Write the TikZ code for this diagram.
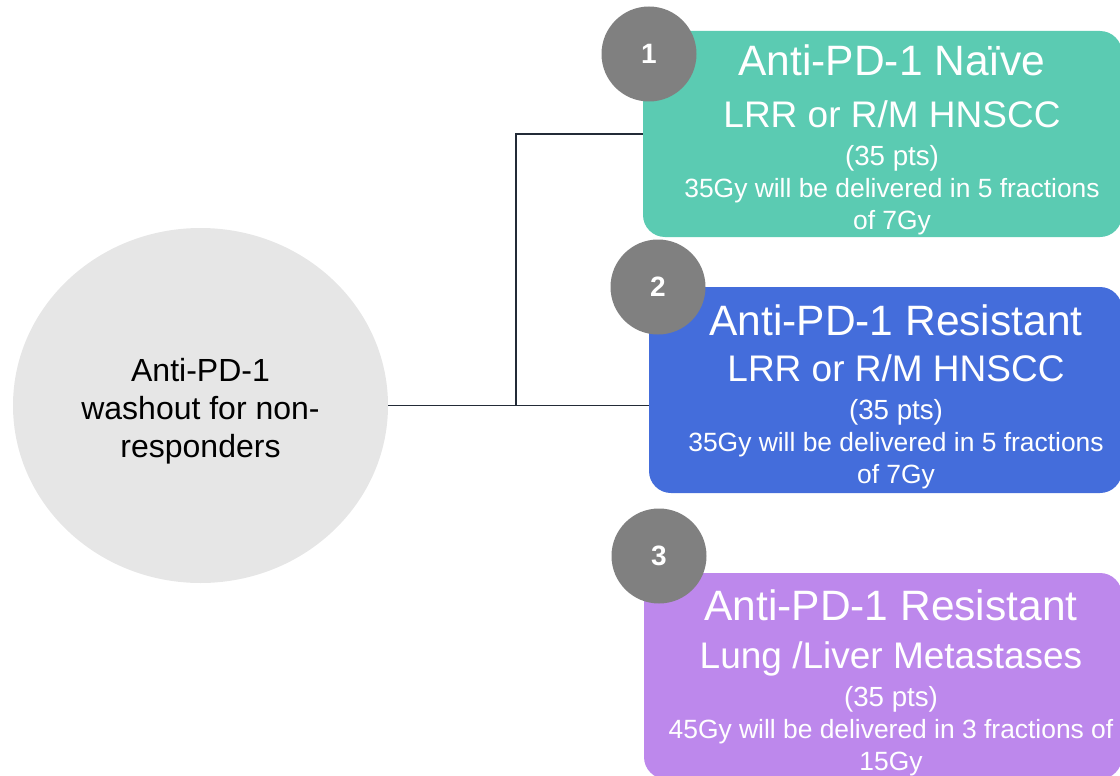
\documentclass[tikz,border=0pt]{standalone}
\usepackage{fontspec}
\setmainfont{Liberation Sans}
\usetikzlibrary{positioning,calc,shapes}
\definecolor{hubgray}{HTML}{E6E6E6}
\definecolor{numgray}{HTML}{808080}
\definecolor{naive}{HTML}{5BCBB2}
\definecolor{resist}{HTML}{446DDB}
\definecolor{meta}{HTML}{BD88EC}
\definecolor{linecol}{HTML}{232B37}
\tikzset{
hub/.style={
  ellipse,
  fill=hubgray,
  minimum width=375pt,
  minimum height=355pt
},
hubtext/.style={align=center, inner sep=0pt, font=\fontsize{32}{38}\selectfont},
arm/.style={rectangle, rounded corners=22pt, minimum height=206pt, inner sep=0pt},
armtext/.style={anchor=north, inner sep=0pt, align=center, text=white,
  font=\fontsize{26.4}{32}\selectfont},
num/.style={circle, fill=numgray, minimum size=95pt, inner sep=0pt, text=white,
  font=\fontsize{28}{32}\selectfont\bfseries},
link/.style={draw=linecol, line width=1.5pt},
}
% line sizes inside the arm boxes
\newcommand{\armtitle}[1]{{\fontsize{42.5}{48}\selectfont #1}}
\newcommand{\armsite}[1]{{\fontsize{37}{44}\selectfont #1}}
\newcommand{\armpts}[1]{{\fontsize{27.7}{33}\selectfont #1}}

\begin{document}
\begin{tikzpicture}[x=1pt, y=-1pt]
    \useasboundingbox (0,0) rectangle (1120,776);

    \node[hub] (hub) at (200.5,405.5) {};
    \node[hubtext] (hubtxt) at ([yshift=-6pt]hub.center) {Anti-PD-1\\washout for non-\\responders};

    % the three arms
    \node[arm, fill=naive, minimum width=479pt] (arm1) at (882.5,134) {};
    \node[arm, fill=resist, minimum width=473pt] (arm2) at (885.5,390) {};
    \node[arm, fill=meta, minimum width=478pt] (arm3) at (883,676) {};

    \node[armtext] (arm1txt) at (892,45) {\armtitle{Anti-PD-1 Naïve}\\[20pt]
        \armsite{LRR or R/M HNSCC}\\[6pt]
        \armpts{(35 pts)}\\
        35Gy will be delivered in 5 fractions\\
        of 7Gy};
    \node[armtext] (arm2txt) at (896,304) {\armtitle{Anti-PD-1 Resistant}\\[15pt]
        \armsite{LRR or R/M HNSCC}\\[6pt]
        \armpts{(35 pts)}\\
        35Gy will be delivered in 5 fractions\\
        of 7Gy};
    \node[armtext] (arm3txt) at (891,589) {\armtitle{Anti-PD-1 Resistant}\\[16pt]
        \armsite{Lung /Liver Metastases}\\[6pt]
        \armpts{(35 pts)}\\
        45Gy will be delivered in 3 fractions of\\
        15Gy};

    % connectors
    \coordinate (split) at (516,405);
    \draw[link] (hub.east) -- (hub.east -| arm2.west);
    \draw[link] (split) |- (arm1.west);

    \node[num] (num1) at (649,54) {1};
    \node[num] (num2) at (658,287) {2};
    \node[num] (num3) at (659,556) {3};
\end{tikzpicture}
\end{document}
